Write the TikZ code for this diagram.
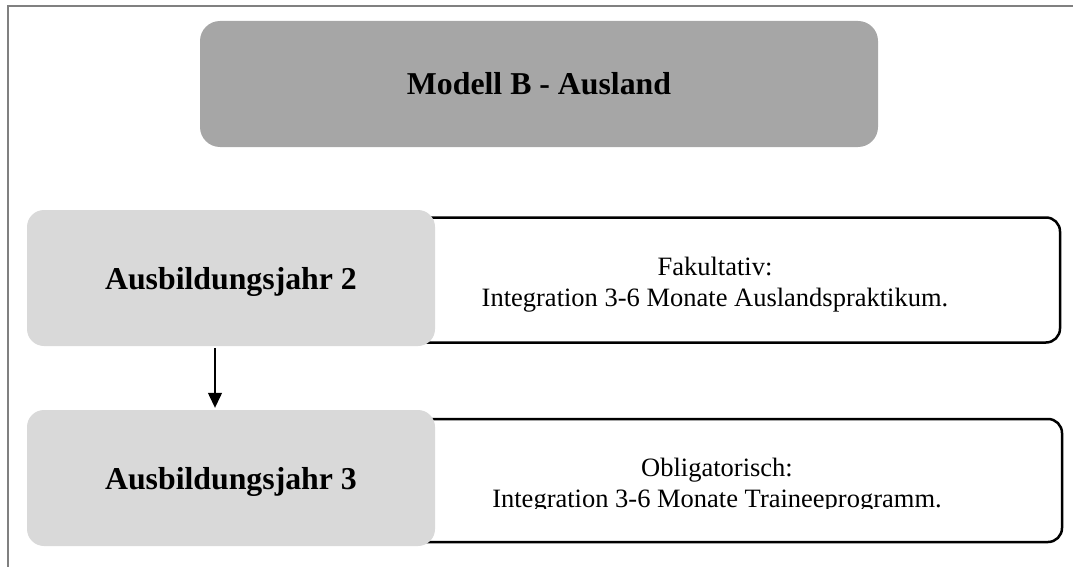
\documentclass[tikz,border=0pt]{standalone}
\usepackage{fontspec}
\setmainfont{Liberation Serif}
\usetikzlibrary{arrows.meta}

\definecolor{darkbox}{HTML}{A6A6A6}
\definecolor{lightbox}{HTML}{D9D9D9}
\definecolor{framegray}{HTML}{808080}

\begin{document}
\begin{tikzpicture}[x=1pt,y=-1pt,>={Triangle[length=15pt,width=14pt]},
                    title node/.style={fill=darkbox,rounded corners=20pt,minimum width=678pt,minimum height=126pt,
                                       inner sep=0pt,font=\fontsize{31.8}{38}\selectfont\bfseries},
                    year node/.style={fill=lightbox,rounded corners=17pt,minimum width=408pt,minimum height=136pt,
                                      inner sep=0pt,text depth=0pt,font=\fontsize{31.8}{38}\selectfont\bfseries},
                    info node/.style={draw,fill=white,line width=2.5pt,rounded corners=14pt,
                                      minimum width=690pt,minimum height=125pt,inner sep=0pt},
                    info text/.style={align=center,anchor=base,inner sep=0pt,font=\fontsize{26.5}{31}\selectfont}]
  \useasboundingbox (0,0) rectangle (1073,567);
  \draw[framegray,line width=2.5pt] (8,567) -- (8,6) -- (1073,6);

  \node[title node] (title) at (539,84) {Modell B - Ausland};
  \node[info node] (info2) at (715,280) {};
  \node[info node,minimum width=692pt,minimum height=123pt] (info3) at (716,480.5) {};
  \node[year node] (jahr2) at (231,278) {Ausbildungsjahr 2};
  \node[year node] (jahr3) at (231,478) {Ausbildungsjahr 3};

  % base sits on the last line
  \node[info text] (fak) at (715,306) {Fakultativ:\\Integration 3-6 Monate Auslandspraktikum.};
  % text frame cuts off the last line
  \begin{scope}
    \clip (370,419) rectangle (1062,508);
    \node[info text] (obl) at (717,507)
      {Obligatorisch:\\Integration 3-6 Monate Traineeprogramm.};
  \end{scope}

  \draw[->,line width=1.3pt,shorten <=2pt,shorten >=2pt] ([xshift=-16pt]jahr2.south) -- ([xshift=-16pt]jahr3.north);
\end{tikzpicture}
\end{document}
